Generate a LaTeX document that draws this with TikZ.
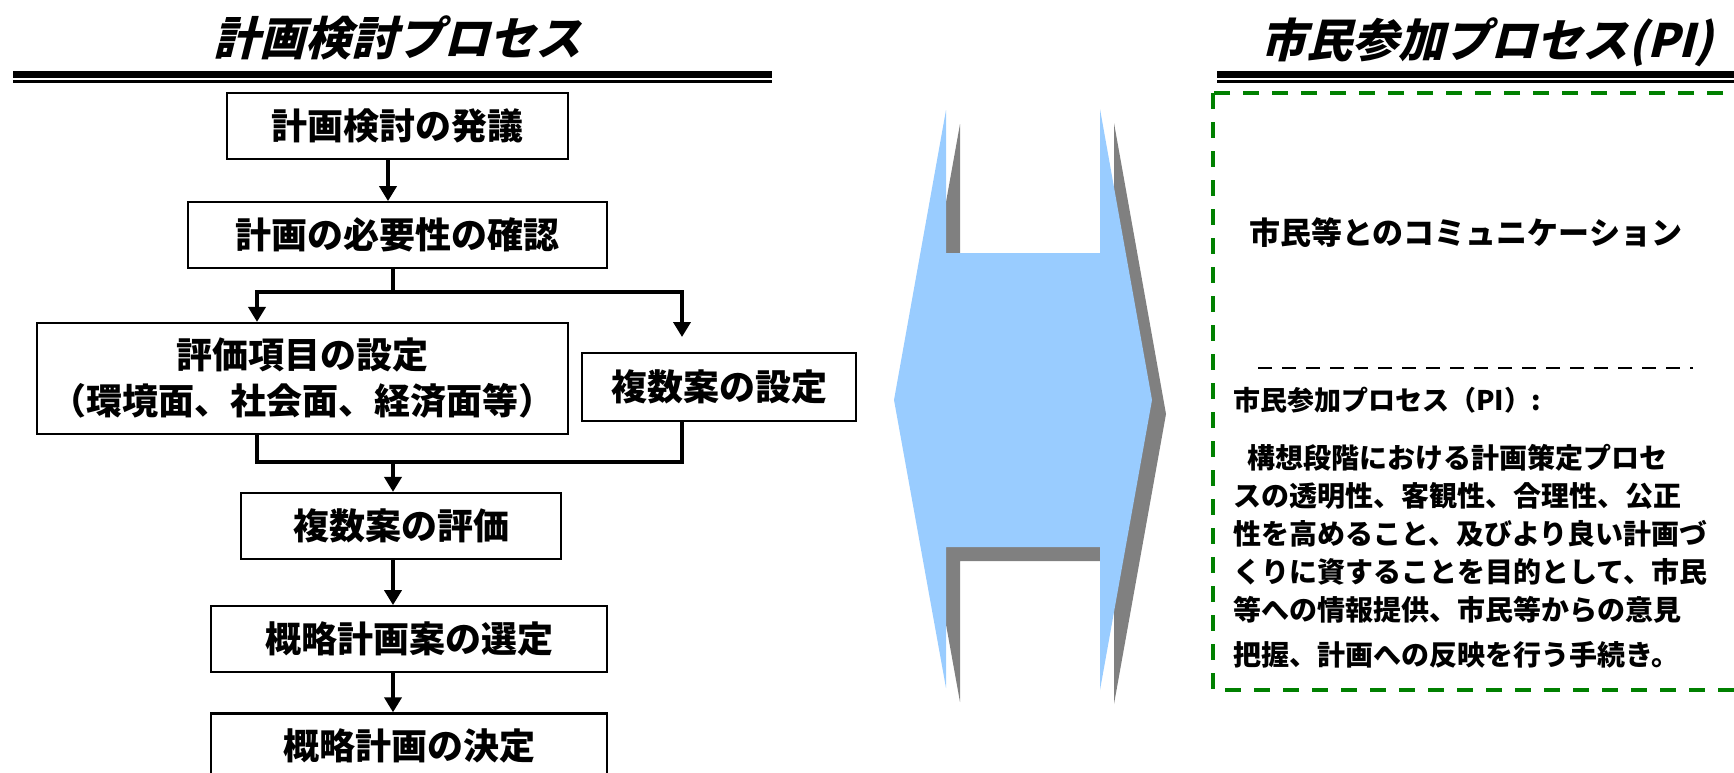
\documentclass[tikz,border=0pt]{standalone}
\usepackage{fontspec}
\usepackage{tikz}
\usetikzlibrary{positioning}
\usetikzlibrary{arrows.meta}
\newfontfamily\jp{Noto Sans CJK JP}[BoldFont={Noto Sans CJK JP Black}]
\newfontfamily\jptit{Noto Sans CJK JP Black}[FakeSlant=0.25]
\definecolor{piblu}{HTML}{99CCFF}
\definecolor{ombra}{HTML}{808080}
\definecolor{piverde}{HTML}{008000}

\begin{document}
\begin{tikzpicture}[x=1pt,y=-1pt,
fase/.style={draw,line width=2.2pt,inner sep=0pt,align=center,minimum height=66pt,
  font=\jp\bfseries\fontsize{36}{46}\selectfont},
linea/.style={line width=4.8pt},
freccia/.style={line width=4.8pt,-{Triangle[length=15pt,width=17pt]}},
titolo/.style={inner sep=0pt,font=\jptit\fontsize{46}{50}\selectfont},
testo/.style={inner sep=0pt,anchor=west,font=\jp\bfseries\fontsize{28}{38}\selectfont}
]
\useasboundingbox (0,0) rectangle (1734,772);
%--
\node[titolo] (tit1) at (397,38) {計画検討プロセス};
\draw[line width=7pt] (13,74) -- (772,74);
\draw[line width=2.5pt] (13,81.5) -- (772,81.5);
\node[titolo] (tit2) at (1487,42) {市民参加プロセス(PI)};
\draw[line width=7pt] (1217,74) -- (1734,74);
\draw[line width=2.5pt] (1217,81.5) -- (1734,81.5);
%--
\node[fase,minimum width=341pt] (hatsugi) at (397.5,126) {計画検討の発議};
\node[fase,minimum width=419pt,below=41pt of hatsugi] (kakunin) {計画の必要性の確認};
\draw[freccia] (hatsugi.south -| 388,0) -- (kakunin.north -| 388,0);
%--
\node[fase,minimum width=531pt,minimum height=111pt] (koumoku) at (302.5,378.5) {評価項目の設定\\（環境面、社会面、経済面等）};
\node[fase,minimum width=274pt,minimum height=68pt] (fukusu) at (719,387) {複数案の設定};
\coordinate (bunki) at (393,292);
\coordinate (migi) at (682,337);
\draw[linea] (kakunin.south -| bunki) -- (bunki);
\draw[freccia] (bunki) -| (koumoku.north -| 257,0);
\draw[freccia] (bunki) -| (migi);
%--
\coordinate (gouryu) at (393,462);
\draw[linea] (koumoku.south -| 257,0) |- (gouryu) -| (fukusu.south -| migi);
\node[fase,minimum width=320pt] (hyoka) at (401,526) {複数案の評価};
\draw[freccia] (gouryu) -- (hyoka.north -| gouryu);
%--
\node[fase,minimum width=396pt,below=45pt of hyoka,xshift=8pt] (sentei) {概略計画案の選定};
\draw[freccia] (hyoka.south -| gouryu) -- (sentei.north -| gouryu);
\node[fase,minimum width=396pt,below=39pt of sentei] (kettei) {概略計画の決定};
\draw[freccia] (sentei.south -| gouryu) -- (kettei.north -| gouryu);
%--
\foreach \d/\c in {14/ombra,0/piblu}
  \fill[\c,shift={(\d,\d)}] (894,400) -- (946,110) -- (946,253) -- (1100,253) -- (1100,109)
    -- (1152,400) -- (1100,690) -- (1100,547) -- (946,547) -- (946,688) -- cycle;
%--
\draw[piverde,line width=4pt,dash pattern=on 16pt off 13pt] (1213,93) rectangle (1770,690);
\node[testo,font=\jp\bfseries\fontsize{31}{38}\selectfont] (comm) at (1249,233) {市民等とのコミュニケーション};
\draw[line width=2pt,dash pattern=on 14pt off 10pt] (1258,368) -- (1693,368);
\node[testo,font=\jp\bfseries\fontsize{27}{38}\selectfont] (pi) at (1233,400) {市民参加プロセス（PI）:};
\node[testo,anchor=north west,align=left] (teigi) at (1233,444)
  {\hspace{14pt}構想段階における計画策定プロセ\\
   スの透明性、客観性、合理性、公正\\
   性を高めること、及びより良い計画づ\\
   くりに資することを目的として、市民\\
   等への情報提供、市民等からの意見\\[7pt]
   把握、計画への反映を行う手続き。};
\end{tikzpicture}
\end{document}
